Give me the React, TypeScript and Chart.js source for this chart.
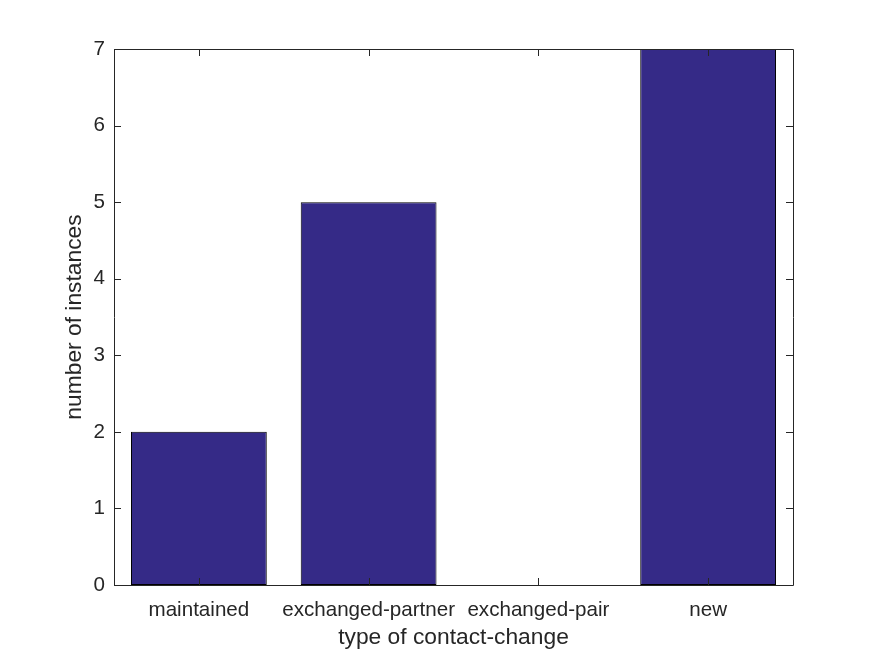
import React, { useEffect, useRef } from "react";
import { Chart, registerables } from "chart.js";

Chart.register(...registerables);

const categories = ["maintained", "exchanged-partner", "exchanged-pair", "new"];
const instances = [2, 5, 0, 7];
const yTicks = [0, 1, 2, 3, 4, 5, 6, 7];

const AXIS_COLOR = "#262626";
const BAR_COLOR = "#352a87";
const FONT = "'Liberation Sans', Arial, Helvetica, sans-serif";

const boxPlugin = {
  id: "matlabBox",
  afterDatasetsDraw(chart: any) {
    const { ctx, chartArea } = chart;
    const { left, right, top, bottom } = chartArea;
    const xs = chart.scales.x;
    const ys = chart.scales.y;
    const tl = 7;
    ctx.save();
    ctx.strokeStyle = AXIS_COLOR;
    ctx.lineWidth = 1;
    ctx.beginPath();
    yTicks.forEach((v) => {
      const y = Math.round(ys.getPixelForValue(v)) + 0.5;
      ctx.moveTo(left, y);
      ctx.lineTo(left + tl, y);
      ctx.moveTo(right, y);
      ctx.lineTo(right - tl, y);
    });
    categories.forEach((_, i) => {
      const x = Math.round(xs.getPixelForValue(i)) + 0.5;
      ctx.moveTo(x, bottom);
      ctx.lineTo(x, bottom - tl);
      ctx.moveTo(x, top);
      ctx.lineTo(x, top + tl);
    });
    ctx.stroke();
    ctx.beginPath();
    ctx.rect(Math.round(left) + 0.5, Math.round(top) + 0.5, Math.round(right - left), Math.round(bottom - top));
    ctx.stroke();
    ctx.restore();
  },
};

export default function App() {
  const ref = useRef<HTMLCanvasElement>(null);
  useEffect(() => {
    if (!ref.current) return;
    const chart = new Chart(ref.current, {
      type: "bar",
      data: {
        labels: categories,
        datasets: [
          {
            data: instances,
            backgroundColor: BAR_COLOR,
            borderColor: "#000000",
            borderWidth: 1,
            borderSkipped: false,
            barPercentage: 0.8,
            categoryPercentage: 1,
          },
        ],
      },
      options: {
        animation: false,
        responsive: false,
        maintainAspectRatio: false,
        layout: { padding: { left: 0, right: 82, top: 49, bottom: 0 } },
        plugins: { legend: { display: false }, tooltip: { enabled: false } },
        scales: {
          x: {
            grid: { display: false, drawTicks: false },
            border: { display: false },
            ticks: {
              color: AXIS_COLOR,
              font: { family: FONT, size: 20.6 },
              padding: 13,
              maxRotation: 0,
              minRotation: 0,
              autoSkip: false,
            },
            title: {
              display: true,
              text: "type of contact-change",
              color: AXIS_COLOR,
              font: { family: FONT, size: 22.8 },
              padding: { top: 0, bottom: 5 },
            },
            afterFit: (s: any) => {
              s.height = 71;
            },
          },
          y: {
            min: 0,
            max: 7,
            grid: { display: false, drawTicks: false },
            border: { display: false },
            ticks: { stepSize: 1, color: AXIS_COLOR, font: { family: FONT, size: 20.6 }, padding: 9 },
            title: {
              display: true,
              text: "number of instances",
              color: AXIS_COLOR,
              font: { family: FONT, size: 22.8 },
              padding: { top: 61, bottom: 0 },
            },
            afterFit: (s: any) => {
              s.width = 114;
            },
          },
        },
      },
      plugins: [boxPlugin],
    });
    return () => chart.destroy();
  }, []);
  return (
    <div style={{ position: "absolute", left: 0, top: 0, width: 875, height: 656, background: "#fff" }}>
      <canvas ref={ref} width={875} height={656} />
    </div>
  );
}
